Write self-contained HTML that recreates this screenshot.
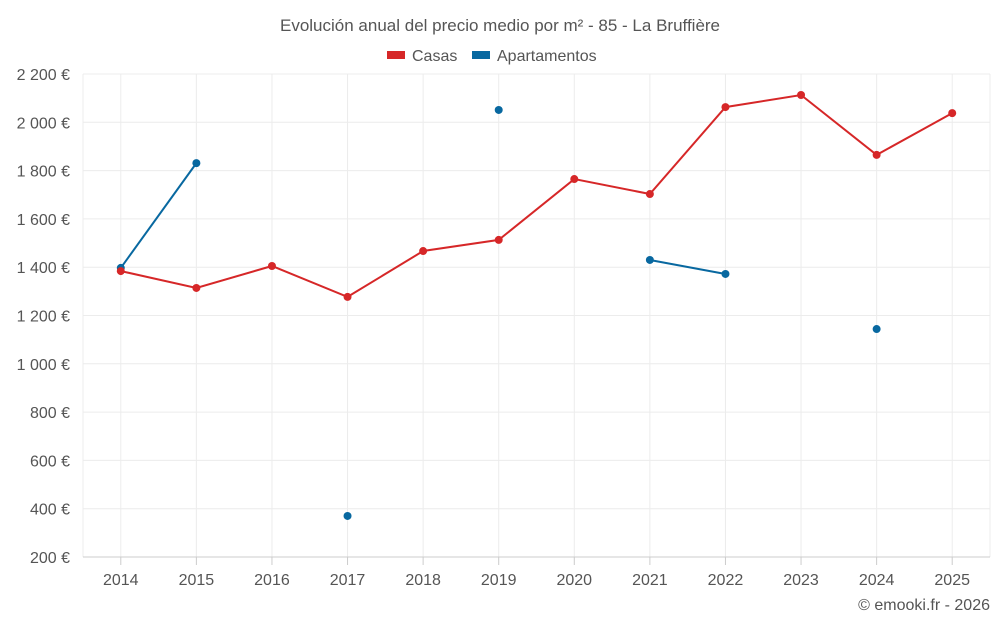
<!DOCTYPE html>
<html><head><meta charset="utf-8"><style>
body{margin:0;background:#fff;font-family:"Liberation Sans",sans-serif;}
svg text{font-family:"Liberation Sans",sans-serif;}
</style></head><body>
<svg id="chart" width="1000" height="625" xmlns="http://www.w3.org/2000/svg">
<text x="500" y="31" text-anchor="middle" font-size="17" fill="#555">Evolución anual del precio medio por m² - 85 - La Bruffière</text>
<g><rect x="387" y="51" width="18" height="8" fill="#d62728"/><text x="412" y="61" font-size="16" fill="#555">Casas</text></g>
<g><rect x="472" y="51" width="18" height="8" fill="#0868a0"/><text x="497" y="61" font-size="16" fill="#555">Apartamentos</text></g>
<g id="grid"></g><g id="marks"></g>
<text x="990" y="610" text-anchor="end" font-size="16" fill="#555">© emooki.fr - 2026</text>
</svg>
<script>
const years=[2014,2015,2016,2017,2018,2019,2020,2021,2022,2023,2024,2025];
const casas=[1384,1314,1405,1277,1467,1513,1765,1703,2063,2113,1865,2038];
const apartamentos=[1397,1831,null,370,null,2051,null,1430,1372,null,1144,null];
const yTicks=[200,400,600,800,1000,1200,1400,1600,1800,2000,2200];
const tickLabels=["200 €","400 €","600 €","800 €","1 000 €","1 200 €","1 400 €","1 600 €","1 800 €","2 000 €","2 200 €"];
const NS="http://www.w3.org/2000/svg";
const L=83,R=990,T=74,B=557;
const bw=(R-L)/years.length;
function x(i){return L+bw*(i+0.5);}
function y(v){return B-(v-200)/2000*(B-T);}
function mk(t,a,p){const e=document.createElementNS(NS,t);for(const k in a)e.setAttribute(k,a[k]);p.appendChild(e);return e;}
const g=document.getElementById('grid'),m=document.getElementById('marks');
yTicks.forEach((v,i)=>{
 const l=mk('line',{x1:L,x2:R,y1:y(v),y2:y(v),stroke:'#ececec'},g);
 
 
 const t=mk('text',{x:70,y:y(v)+6,'text-anchor':'end','font-size':16,fill:'#555'},g);
 t.textContent=tickLabels[i];
 
 
});
[L,R].forEach(px=>{
 const e=mk('line',{x1:px,x2:px,y1:T,y2:B,stroke:'#ececec'},g);
 
 
});
years.forEach((yr,i)=>{
 const l=mk('line',{x1:x(i),x2:x(i),y1:T,y2:B,stroke:'#ececec'},g);
 
 
 const tk=mk('line',{x1:x(i),x2:x(i),y1:B,y2:B+8,stroke:'#ccc'},g);
 
 
 const t=mk('text',{x:x(i),y:585,'text-anchor':'middle','font-size':16,fill:'#555'},g);
 t.textContent=yr;
 
 
});
const ax=mk('line',{x1:L,x2:R,y1:B,y2:B,stroke:'#ccc'},g);


function series(data,color,name){
 let seg=[];
 const segs=[];
 data.forEach((v,i)=>{if(v==null){if(seg.length)segs.push(seg);seg=[];}else seg.push([x(i),y(v)]);});
 if(seg.length)segs.push(seg);
 segs.forEach(s=>{if(s.length>1){
  const p=mk('polyline',{points:s.map(q=>q.join(',')).join(' '),fill:'none',stroke:color,'stroke-width':2},m);
  
  
 }});
 data.forEach((v,i)=>{if(v==null)return;
  const c=mk('circle',{cx:x(i),cy:y(v),r:4,fill:color},m);
  
  
 });
}
series(apartamentos,'#0868a0','apartamentos');
series(casas,'#d62728','casas');
</script>
</body></html>
